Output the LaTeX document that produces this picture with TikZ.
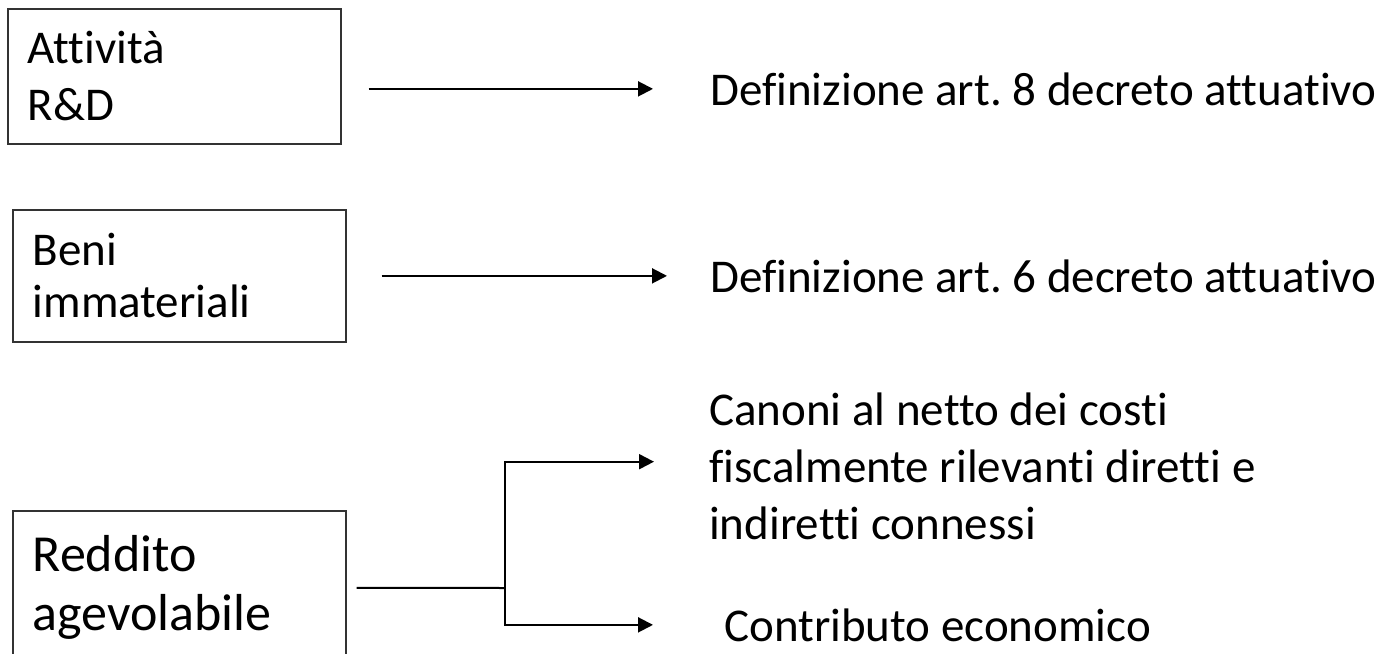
\documentclass[tikz,border=0pt]{standalone}
\usepackage{fontspec}
\setmainfont{Carlito}[Ligatures=CommonOff]
\usepackage{tikz}
\usetikzlibrary{arrows.meta,positioning}
\frenchspacing

\tikzset{
  box/.style={draw=black!80, line width=1.5pt, inner xsep=20pt, inner ysep=0pt, text width=293pt, align=left, anchor=north west},
  desc/.style={anchor=base west, inner sep=0pt, align=left, font=\fontsize{47}{57}\selectfont},
  wire/.style={line width=2pt},
  conn/.style={wire, -{Triangle[length=15pt,width=15pt]}}
}

\begin{document}
\begin{tikzpicture}[x=1pt,y=-1pt]
  \useasboundingbox (0,0) rectangle (1391,653);
  % boxes on the left
  \node[box, minimum height=135pt, font=\fontsize{47}{57}\selectfont] (att) at (7,8) {Attività\\R\&D};
  \node[box, minimum height=132pt, font=\fontsize{47}{52}\selectfont] (ben) at (12,209) {Beni\\immateriali};
  \node[box, minimum height=154pt, font=\fontsize{52}{59}\selectfont] (red) at (12,510) {Reddito\\agevolabile};
  % texts on the right
  \node[desc] (def8) at (710,105) {Definizione art. 8 decreto attuativo};
  \node[desc] (def6) at (710,292) {Definizione art. 6 decreto attuativo};
  \node[desc, anchor=north west] (can) at (709,393) {Canoni al netto dei costi\\fiscalmente rilevanti diretti e\\indiretti connessi};
  \node[desc] (con) at (724,641) {Contributo economico};
  % arrows
  \draw[conn, shorten <=27pt, shorten >=57pt] (att.east |- def8.west) -- (def8.west);
  \draw[conn, shorten <=35pt, shorten >=43pt] (ben.east |- def6.west) -- (def6.west);
  \coordinate (fork) at (505,588);
  \draw[wire, shorten <=10pt] (red.east) -- (fork);
  \draw[conn, shorten >=55pt] (fork) |- ([yshift=5pt]can.west);
  \draw[conn, shorten >=71pt] (fork) |- (con.west);
\end{tikzpicture}
\end{document}
